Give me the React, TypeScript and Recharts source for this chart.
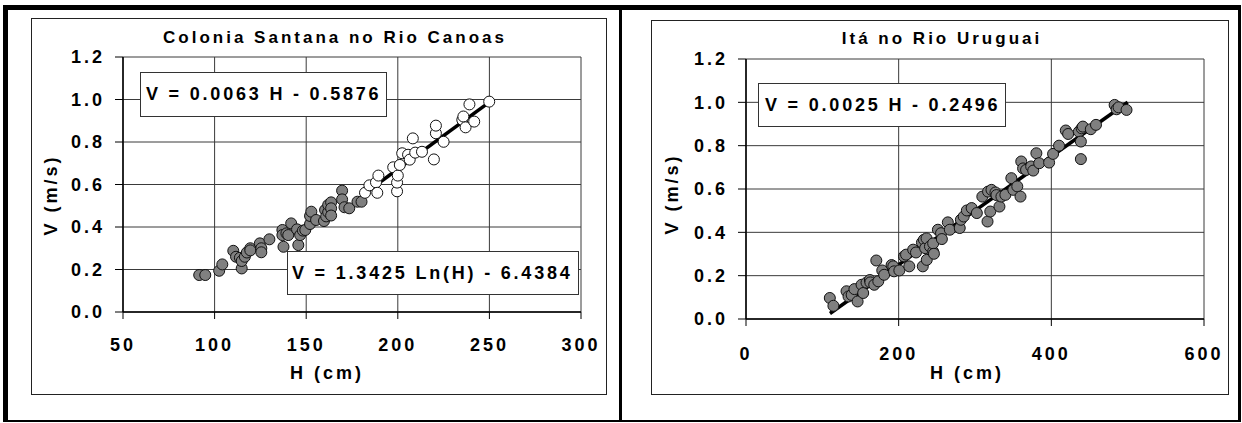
import React from "react";
import { CartesianGrid, ReferenceLine, Scatter, ScatterChart, XAxis, YAxis } from "recharts";

const FONT = '"Liberation Sans", Arial, sans-serif';

const canoasHTicks = [50, 100, 150, 200, 250, 300];
const itaHTicks = [0, 200, 400, 600];
const velocityTicks = [0, 0.2, 0.4, 0.6, 0.8, 1.0, 1.2];

// Colonia Santana: lower stages (grey markers)
const canoasLowH = [
  91.6, 94.9, 102.5, 104.2, 110.2, 111.7, 113.8, 114.8, 114.8, 116.5, 117.6, 119.5, 119.5,
  124.7, 125.5, 125.5, 129.9, 137.0, 137.0, 137.6, 139.2, 140.2, 141.8, 145.0, 145.7, 146.7,
  148.2, 149.5, 152.1, 152.1, 152.8, 155.4, 159.7, 160.3, 160.9, 162.0, 162.0, 163.6, 163.6,
  163.6, 169.6, 169.6, 170.9, 173.5, 178.0, 180.2,
];
const canoasLowV = [
  0.174, 0.174, 0.194, 0.224, 0.288, 0.26, 0.255, 0.205, 0.24, 0.26, 0.28, 0.3, 0.29,
  0.323, 0.3, 0.281, 0.342, 0.386, 0.362, 0.307, 0.37, 0.362, 0.417, 0.389, 0.315, 0.362,
  0.383, 0.386, 0.414, 0.452, 0.472, 0.433, 0.428, 0.48, 0.45, 0.47, 0.504, 0.516, 0.488,
  0.454, 0.571, 0.53, 0.493, 0.488, 0.519, 0.519,
];

// Colonia Santana: upper stages (open markers)
const canoasHighH = [
  182.1, 184.5, 188.1, 188.8, 189.4, 197.5, 199.6, 199.6, 200.0, 201.1, 202.4, 205.6, 206.5,
  208.2, 209.5, 213.2, 219.7, 220.8, 220.8, 225.0, 235.2, 235.8, 237.0, 239.1, 241.7, 249.9,
];
const canoasHighV = [
  0.561, 0.596, 0.61, 0.561, 0.642, 0.681, 0.568, 0.609, 0.642, 0.692, 0.747, 0.74, 0.717,
  0.817, 0.75, 0.754, 0.718, 0.841, 0.877, 0.801, 0.904, 0.92, 0.869, 0.977, 0.896, 0.99,
];

// Itá
const itaH = [
  109.8, 114.5, 131.7, 134.3, 138.4, 142.0, 146.2, 151.4, 153.5, 157.9, 162.3, 162.9, 168.0,
  170.7, 173.3, 178.5, 181.0, 190.7, 193.0, 194.0, 200.9, 207.0, 209.7, 213.9, 219.0, 222.7,
  230.5, 233.1, 234.7, 231.6, 236.5, 236.8, 241.0, 245.2, 245.2, 246.2, 251.4, 255.5, 256.6,
  264.4, 267.0, 280.0, 281.5, 285.2, 289.3, 295.6, 302.4, 309.6, 316.4, 317.1, 320.0, 321.6,
  326.8, 328.1, 332.0, 334.6, 339.8, 347.6, 350.2, 355.4, 359.6, 360.6, 363.0, 366.9, 373.6,
  376.3, 380.4, 384.1, 397.1, 402.3, 410.1, 418.9, 422.0, 436.1, 438.7, 438.7, 439.7, 441.3,
  451.7, 458.5, 482.9, 485.5, 488.1, 498.5,
];
const itaV = [
  0.097, 0.061, 0.128, 0.104, 0.111, 0.138, 0.081, 0.158, 0.12, 0.168, 0.18, 0.169, 0.158,
  0.27, 0.174, 0.224, 0.204, 0.249, 0.243, 0.22, 0.224, 0.289, 0.297, 0.243, 0.32, 0.307,
  0.353, 0.366, 0.327, 0.243, 0.372, 0.273, 0.335, 0.311, 0.349, 0.301, 0.412, 0.396, 0.369,
  0.446, 0.412, 0.42, 0.458, 0.473, 0.501, 0.512, 0.489, 0.565, 0.45, 0.588, 0.496, 0.596,
  0.584, 0.572, 0.519, 0.565, 0.573, 0.65, 0.596, 0.612, 0.565, 0.727, 0.695, 0.688, 0.704,
  0.685, 0.765, 0.719, 0.722, 0.762, 0.8, 0.87, 0.854, 0.865, 0.819, 0.738, 0.88, 0.888,
  0.876, 0.896, 0.988, 0.968, 0.977, 0.965,
];

const canoasLinear = { slope: 0.0063, intercept: -0.5876, hMin: 182, hMax: 250 };
const itaLinear = { slope: 0.0025, intercept: -0.2496, hMin: 110, hMax: 500 };

type Fit = typeof canoasLinear;

const zip = (h: number[], v: number[]) => h.map((x, i) => ({ x, y: v[i] }));
const fitSegment = (f: Fit) => [
  { x: f.hMin, y: f.slope * f.hMin + f.intercept },
  { x: f.hMax, y: f.slope * f.hMax + f.intercept },
];

const marker = (fill: string) => (p: any) => (
  <circle cx={p.cx} cy={p.cy} r={5.5} fill={fill} stroke="#111" strokeWidth={1} />
);

const tickText = { fill: "#000", fontSize: 18, fontWeight: 700, letterSpacing: 3 };
const labelText: React.CSSProperties = {
  position: "absolute",
  fontSize: 18,
  fontWeight: 700,
  letterSpacing: 3,
  lineHeight: 1,
  whiteSpace: "nowrap",
  transform: "translate(-50%, -50%)",
};

function EquationBox({ left, top, width, height, pad, text }: any) {
  return (
    <div
      style={{
        position: "absolute",
        left,
        top,
        width,
        height,
        boxSizing: "border-box",
        border: "1px solid #333",
        background: "#fff",
        display: "flex",
        alignItems: "center",
        paddingLeft: pad,
        fontSize: 18,
        fontWeight: 700,
        letterSpacing: 2.8,
        whiteSpace: "nowrap",
      }}
    >
      {text}
    </div>
  );
}

function Panel({ box, margin, yWidth, xHeight, xTicks, xMargin, series, fit }: any) {
  return (
    <div
      style={{
        position: "absolute",
        left: box.left,
        top: box.top,
        width: box.width,
        height: box.height,
        boxSizing: "border-box",
        border: "1.5px solid #222",
      }}
    >
      <div style={{ position: "absolute", left: -1.5, top: -1.5 }}>
        <ScatterChart width={box.width} height={box.height} margin={margin}>
          <CartesianGrid stroke="#3a3a3a" strokeWidth={1} />
          <XAxis
            type="number"
            dataKey="x"
            domain={[xTicks[0], xTicks[xTicks.length - 1]]}
            ticks={xTicks}
            interval={0}
            height={xHeight}
            tickSize={7}
            tickMargin={xMargin}
            tick={tickText}
            axisLine={{ stroke: "#000", strokeWidth: 1.5 }}
            tickLine={{ stroke: "#000" }}
          />
          <YAxis
            type="number"
            dataKey="y"
            domain={[0, 1.2]}
            ticks={velocityTicks}
            interval={0}
            width={yWidth}
            tickSize={8}
            tickMargin={10}
            tick={tickText}
            tickFormatter={(v: number) => v.toFixed(1)}
            axisLine={{ stroke: "#000", strokeWidth: 1.5 }}
            tickLine={{ stroke: "#000" }}
          />
          {series.map((s: any, i: number) => (
            <Scatter key={i} data={s.data} shape={marker(s.fill)} isAnimationActive={false} />
          ))}
          <ReferenceLine segment={fitSegment(fit)} stroke="#000" strokeWidth={3.5} />
        </ScatterChart>
      </div>
    </div>
  );
}

export default function App() {
  return (
    <div
      style={{
        position: "absolute",
        left: 0,
        top: 0,
        width: 1242,
        height: 423,
        background: "#fff",
        fontFamily: FONT,
        color: "#000",
        overflow: "hidden",
      }}
    >
      <div
        style={{
          position: "absolute",
          left: 3,
          top: 5,
          width: 1238,
          height: 417,
          boxSizing: "border-box",
          borderTop: "5px solid #000",
          borderLeft: "5px solid #000",
          borderRight: "3px solid #000",
          borderBottom: "2px solid #000",
        }}
      />
      <div style={{ position: "absolute", left: 619, top: 5, width: 3, height: 417, background: "#000" }} />

      <Panel
        box={{ left: 31, top: 18, width: 576, height: 377 }}
        margin={{ top: 39, right: 26, bottom: 33, left: 32 }}
        yWidth={60}
        xHeight={50}
        xTicks={canoasHTicks}
        xMargin={19}
        series={[
          { data: zip(canoasLowH, canoasLowV), fill: "#808080" },
          { data: zip(canoasHighH, canoasHighV), fill: "#fff" },
        ]}
        fit={canoasLinear}
      />
      <div style={{ ...labelText, left: 335, top: 37, fontSize: 17 }}>Colonia Santana no Rio Canoas</div>
      <div style={{ ...labelText, left: 327, top: 373 }}>H (cm)</div>
      <div style={{ ...labelText, left: 51, top: 195, transform: "translate(-50%, -50%) rotate(-90deg)" }}>V (m/s)</div>
      <EquationBox left={140} top={72} width={247} height={45} pad={5} text="V = 0.0063 H - 0.5876" />
      <EquationBox left={287} top={251} width={292} height={44} pad={4} text="V = 1.3425 Ln(H) - 6.4384" />

      <Panel
        box={{ left: 651, top: 20, width: 578, height: 375 }}
        margin={{ top: 39, right: 25, bottom: 26, left: 35 }}
        yWidth={60}
        xHeight={50}
        xTicks={itaHTicks}
        xMargin={21}
        series={[{ data: zip(itaH, itaV), fill: "#808080" }]}
        fit={itaLinear}
      />
      <div style={{ ...labelText, left: 942, top: 38, fontSize: 17 }}>Itá no Rio Uruguai</div>
      <div style={{ ...labelText, left: 967, top: 373 }}>H (cm)</div>
      <div style={{ ...labelText, left: 672, top: 194, transform: "translate(-50%, -50%) rotate(-90deg)" }}>V (m/s)</div>
      <EquationBox left={758} top={83} width={248} height={44} pad={6} text="V = 0.0025 H - 0.2496" />
    </div>
  );
}
